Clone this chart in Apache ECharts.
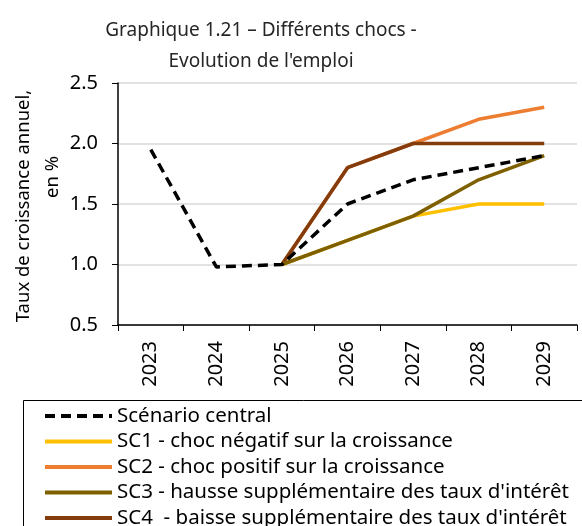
<!DOCTYPE html>
<html lang="fr">
<head>
    <meta charset="UTF-8">
    <title>Graphique 1.21</title>
    <script src="https://cdn.jsdelivr.net/npm/echarts@6/dist/echarts.min.js"></script>
    <style>
        body { margin: 0; background: #fff; }
        .chart { width: 582px; height: 526px; }
    </style>
</head>
<body>
    <div class="chart"></div>
<script>
    // annees
    var years = ['2023', '2024', '2025', '2026', '2027', '2028', '2029'];
    // valeurs (taux de croissance annuel, en %)
    var central = [1.95, 0.98, 1.0, 1.5, 1.7, 1.8, 1.9];
    var sc1 = [null, null, 1.0, 1.2, 1.4, 1.5, 1.5];
    var sc2 = [null, null, 1.0, 1.8, 2.0, 2.2, 2.3];
    var sc3 = [null, null, 1.0, 1.2, 1.4, 1.7, 1.9];
    var sc4 = [null, null, 1.0, 1.8, 2.0, 2.0, 2.0];

    var names = [
        'Scénario central',
        'SC1 - choc négatif sur la croissance',
        'SC2 - choc positif sur la croissance',
        'SC3 - hausse supplémentaire des taux d\'intérêt',
        'SC4  - baisse supplémentaire des taux d\'intérêt'
    ];
    var colors = ['#000000', '#FFC000', '#ED7D31', '#7F6000', '#843C0C'];
    var font = 'Noto Sans';

    function serie(i, data, dashed, z) {
        return {
            name: names[i],
            type: 'line',
            data: data,
            symbol: 'none',
            z: z,
            lineStyle: { color: colors[i], width: 3.5, type: dashed ? [10, 6] : 'solid' },
            itemStyle: { color: colors[i] }
        };
    }

    var option = {
        animation: false,
        textStyle: { fontFamily: font },
        title: {
            text: 'Graphique 1.21 – Différents chocs -\nEvolution de l\'emploi',
            left: 256,
            textAlign: 'center',
            top: 10,
            textStyle: { fontFamily: font, fontSize: 19, fontWeight: 'normal', color: '#262626', lineHeight: 31 }
        },
        graphic: [{
            type: 'rect',
            shape: { x: 23.5, y: 400.5, width: 600, height: 200 },
            style: { fill: 'none', stroke: '#000', lineWidth: 1 },
            z: 0
        }, {
            type: 'text',
            x: 24,
            y: 206,
            rotation: Math.PI / 2,
            style: {
                text: 'Taux de croissance annuel,',
                fontFamily: font, fontSize: 18.5, fill: '#000',
                align: 'center', verticalAlign: 'middle'
            }
        }, {
            type: 'text',
            x: 53,
            y: 177,
            rotation: Math.PI / 2,
            style: {
                text: 'en %',
                fontFamily: font, fontSize: 18.5, fill: '#000',
                align: 'center', verticalAlign: 'middle'
            }
        }],
        legend: {
            orient: 'vertical',
            left: 43,
            top: 405,
            height: 300,
            padding: 0,
            itemWidth: 67,
            itemHeight: 14,
            itemGap: 3.5,
            itemStyle: { opacity: 0 },
            lineStyle: { width: 4 },
            textStyle: { fontFamily: font, fontSize: 20.5, lineHeight: 22, color: '#000' },
            data: names
        },
        grid: { left: 118, right: 5, top: 83, bottom: 201 },
        xAxis: {
            type: 'category',
            data: years,
            boundaryGap: true,
            axisLine: { lineStyle: { color: '#000', width: 1.5 } },
            axisTick: { show: true, length: 6, lineStyle: { color: '#000' } },
            axisLabel: { rotate: 90, color: '#000', fontSize: 20, margin: 16 }
        },
        yAxis: {
            type: 'value',
            min: 0.5,
            max: 2.5,
            interval: 0.5,
            axisLine: { show: true, lineStyle: { color: '#000', width: 1.5 } },
            axisTick: { show: true, length: 6, lineStyle: { color: '#000' } },
            axisLabel: {
                color: '#000', fontSize: 20, margin: 20,
                formatter: function (v) { return v.toFixed(1); }
            },
            splitLine: { lineStyle: { color: '#d9d9d9', width: 1.5 } }
        },
        series: [
            serie(0, central, true, 6),
            serie(1, sc1, false, 2),
            serie(2, sc2, false, 3),
            serie(3, sc3, false, 5),
            serie(4, sc4, false, 4)
        ]
    };

    var myChart = echarts.init(document.querySelector('.chart'), null, { renderer: 'canvas' });
    myChart.setOption(option);
</script>
</body>
</html>
